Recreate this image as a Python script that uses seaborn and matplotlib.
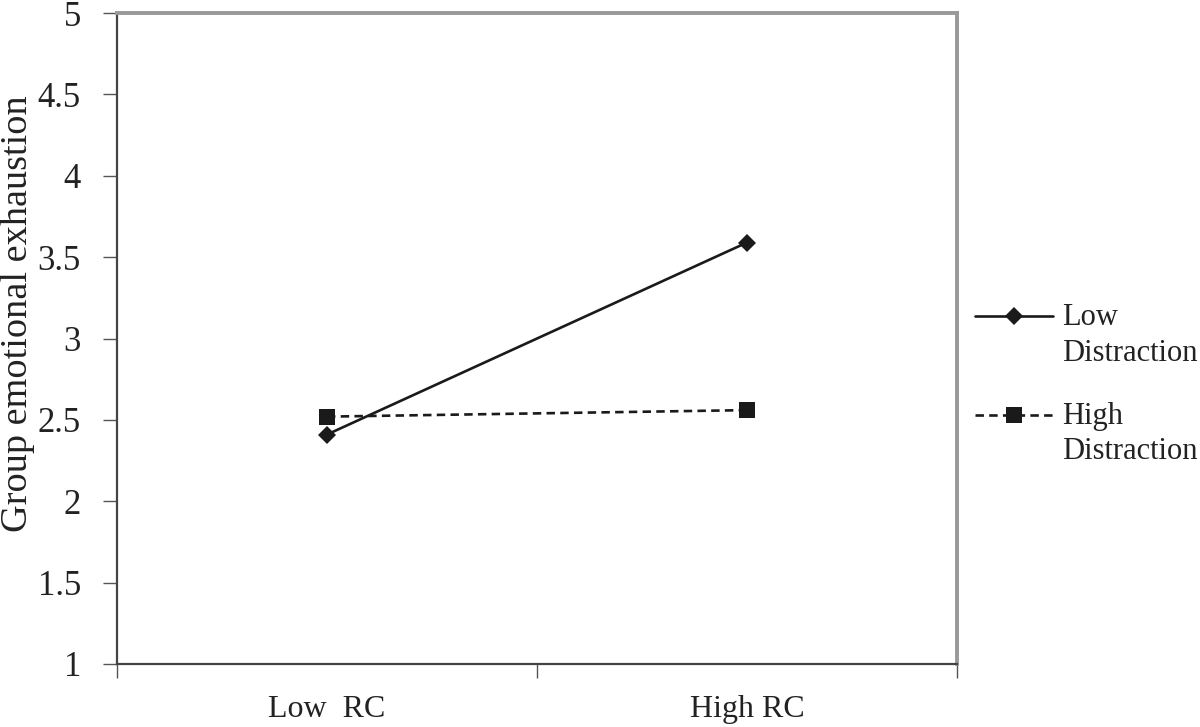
import matplotlib
matplotlib.use("Agg")
import matplotlib.pyplot as plt
import seaborn as sns
import pandas as pd
import numpy as np
from matplotlib.ticker import FixedLocator
from matplotlib.legend_handler import HandlerLine2D

categories = ["Low  RC", "High RC"]
series_names = ["Low\nDistraction", "High\nDistraction"]
low_distraction = [2.41, 3.59]
high_distraction = [2.52, 2.56]
y_ticks = [1, 1.5, 2, 2.5, 3, 3.5, 4, 4.5, 5]
y_tick_labels = ["1", "1.5", "2", "2.5", "3", "3.5", "4", "4.5", "5"]

sns.set_theme(style="white")
plt.rcParams['font.family'] = ['Liberation Serif', 'DejaVu Serif']

df = pd.DataFrame({
    "x": list(range(len(categories))) * 2,
    "y": low_distraction + high_distraction,
    "series": [series_names[0]] * len(categories) + [series_names[1]] * len(categories),
})

fig = plt.figure(figsize=(12, 7.27), dpi=100)
ax = fig.add_axes([0.0975, 0.0867, 0.7, 0.8953])

sns.lineplot(data=df, x="x", y="y", hue="series", style="series",
             palette={series_names[0]: "#1a1a1a", series_names[1]: "#1a1a1a"},
             markers={series_names[0]: "D", series_names[1]: "s"},
             dashes={series_names[0]: "", series_names[1]: (3.2, 2.0)},
             markersize=10, linewidth=1.9, markeredgewidth=0,
             ax=ax, legend=False)
lines = ax.get_lines()
lines[0].set_markersize(9.5)
lines[1].set_markersize(12)

ax.set_xlim(-0.5, len(categories) - 0.5)
ax.set_ylim(1, 5)
ax.set_yticks(y_ticks)
ax.set_yticklabels(y_tick_labels)
ax.set_xticks(range(len(categories)))
ax.set_xticklabels(categories)
ax.xaxis.set_minor_locator(FixedLocator([-0.5, 0.5, 1.5]))
ax.tick_params(axis="x", which="major", length=0, labelsize=23, pad=22, colors="#222222")
ax.tick_params(axis="x", which="minor", length=10, width=1, color="#555555", bottom=True)
ax.tick_params(axis="y", which="major", length=10, width=1, color="#555555", left=True,
               labelsize=25, pad=16, colors="#222222")
ax.set_xlabel("")
ax.set_ylabel("Group emotional exhaustion", fontsize=27.5, color="#222222")
ax.yaxis.label.set_va("center")
ax.yaxis.set_label_coords(-0.1185, 0.539)

for s in ["left", "bottom"]:
    ax.spines[s].set_color("#444444")
    ax.spines[s].set_linewidth(1.6)
for s in ["top", "right"]:
    ax.spines[s].set_color("#999999")
    ax.spines[s].set_linewidth(2.8)


class ShiftedHandler(HandlerLine2D):
    def __init__(self, dy, **kw):
        super().__init__(**kw)
        self.dy = dy

    def create_artists(self, legend, orig_handle, xdescent, ydescent,
                       width, height, fontsize, trans):
        arts = super().create_artists(legend, orig_handle, xdescent, ydescent,
                                      width, height, fontsize, trans)
        for a in arts:
            a.set_ydata(np.asarray(a.get_ydata(), dtype=float) + self.dy)
        return arts


handles = [lines[0], lines[1]]
leg = fig.legend(handles, series_names, loc="upper left",
                 bbox_to_anchor=(975 / 1200, 1 - 303 / 727), frameon=False, fontsize=22,
                 handlelength=2.55, handletextpad=0.3, labelspacing=1.12,
                 borderpad=0, borderaxespad=0,
                 handler_map={h: ShiftedHandler(14.3) for h in handles})
for t in leg.get_texts():
    t.set_color("#222222")
    t.set_linespacing(1.3)

fig.savefig("out.png", dpi=100, facecolor="white")
